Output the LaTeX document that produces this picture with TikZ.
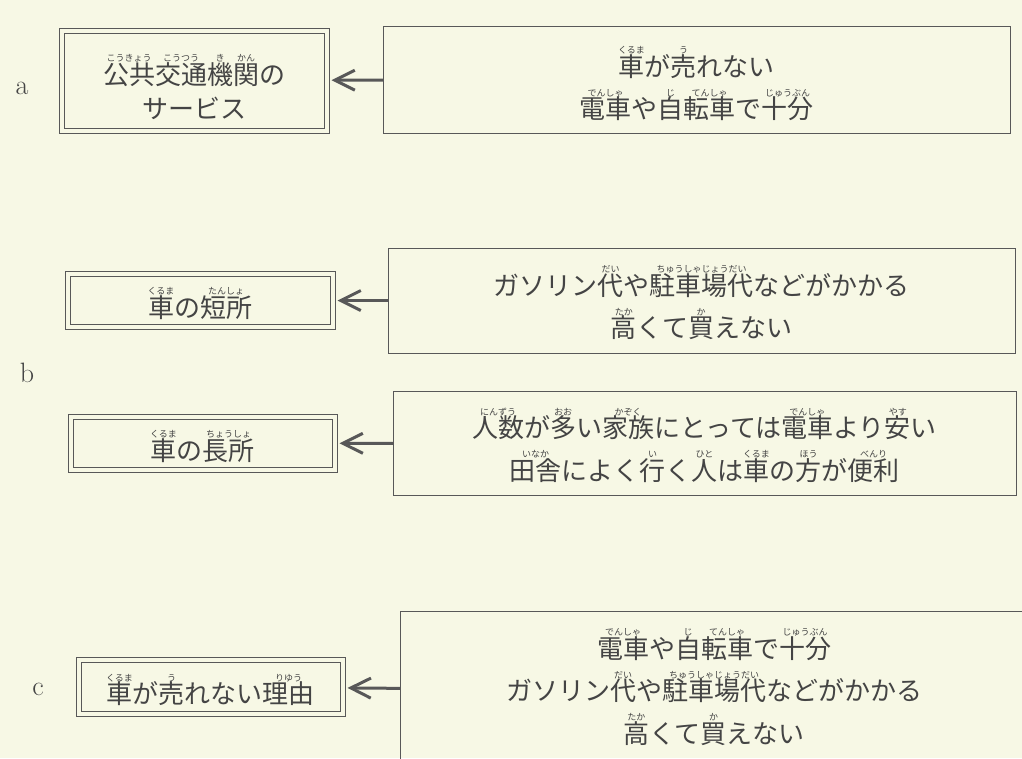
\documentclass[tikz,border=0pt]{standalone}
\usepackage{fontspec}
\newfontfamily\jafont{Noto Sans CJK JP}
\usepackage{tikz}
\usetikzlibrary{calc,arrows.meta}
\definecolor{paper}{RGB}{247,248,229}
\definecolor{ink}{RGB}{88,88,88}
\definecolor{txt}{RGB}{68,68,68}
% ruby: reading set small above the kanji
\newcommand\rb[2]{\leavevmode\setbox0\hbox{#1}\hbox to\wd0{\hss\raisebox{22.5pt}{\fontsize{9}{9}\selectfont #2}\hss}\llap{\box0}}
\tikzset{
	every node/.style={font=\jafont\fontsize{26}{42.5}\selectfont,text=txt,inner sep=0pt,outer sep=0pt},
	result/.style={draw=ink,line width=1pt,double=paper,double distance=4pt,align=center,text height=36pt},
	reason/.style={draw=ink,line width=1pt,align=center,text height=77pt},
	directed/.style={draw=ink,line width=3pt,arrows={-Straight Barb[length=20pt,width=20pt]},shorten >=5pt},
	tag/.style={font=\rmfamily\fontsize{28}{30}\selectfont}
	}

\begin{document}
\begin{tikzpicture}[x=1pt,y=-1pt]
	\useasboundingbox (0,0) rectangle (1022,758);
	\fill[paper] (0,0) rectangle (1022,758);
	\clip (0,0) rectangle (1022,758);

	% a
	\node[tag] (a) at (22,88) {a};
	\node[result,minimum width=265,minimum height=100,text height=78pt] (service) at (194,80.5)
		{\rb{公共}{こうきょう}\rb{交通}{こうつう}\rb{機}{き}\rb{関}{かん}の\\[-8pt]サービス};
	\node[reason,minimum width=627,minimum height=107,text height=81pt] (notsold) at (696.5,79.5)
		{\rb{車}{くるま}が\rb{売}{う}れない\\\rb{電車}{でんしゃ}や\rb{自}{じ}\rb{転車}{てんしゃ}で\rb{十分}{じゅうぶん}};
	\draw[directed] (notsold) -- (service);

	% b
	\node[tag] (b) at (27,373) {b};
	\node[result,minimum width=265,minimum height=53] (cons) at (200,300.5)
		{\rb{車}{くるま}の\rb{短所}{たんしょ}};
	\node[reason,minimum width=627,minimum height=105] (costly) at (701.5,300.5)
		{ガソリン\rb{代}{だい}や\rb{駐車場代}{ちゅうしゃじょうだい}などがかかる\\\rb{高}{たか}くて\rb{買}{か}えない};
	\draw[directed] (costly) -- (cons);

	\node[result,minimum width=264,minimum height=53] (pros) at (202.5,443.5)
		{\rb{車}{くるま}の\rb{長所}{ちょうしょ}};
	\node[reason,minimum width=623,minimum height=104] (handy) at (704.5,443)
		{\rb{人数}{にんずう}が\rb{多}{おお}い\rb{家族}{かぞく}にとっては\rb{電車}{でんしゃ}より\rb{安}{やす}い\\\rb{田舎}{いなか}によく\rb{行}{い}く\rb{人}{ひと}は\rb{車}{くるま}の\rb{方}{ほう}が\rb{便利}{べんり}};
	\draw[directed] (handy) -- (pros);

	% c
	\node[tag] (c) at (38,689) {c};
	\node[result,minimum width=264,minimum height=54.5] (why) at (210.5,686.75)
		{\rb{車}{くるま}が\rb{売}{う}れない\rb{理由}{りゆう}};
	\node[reason,minimum width=628,minimum height=160,text height=107pt] (reasons) at (714,691)
		{\rb{電車}{でんしゃ}や\rb{自}{じ}\rb{転車}{てんしゃ}で\rb{十分}{じゅうぶん}\\ガソリン\rb{代}{だい}や\rb{駐車場代}{ちゅうしゃじょうだい}などがかかる\\\rb{高}{たか}くて\rb{買}{か}えない};
	\draw[directed] (reasons) -- (why);
\end{tikzpicture}
\end{document}
